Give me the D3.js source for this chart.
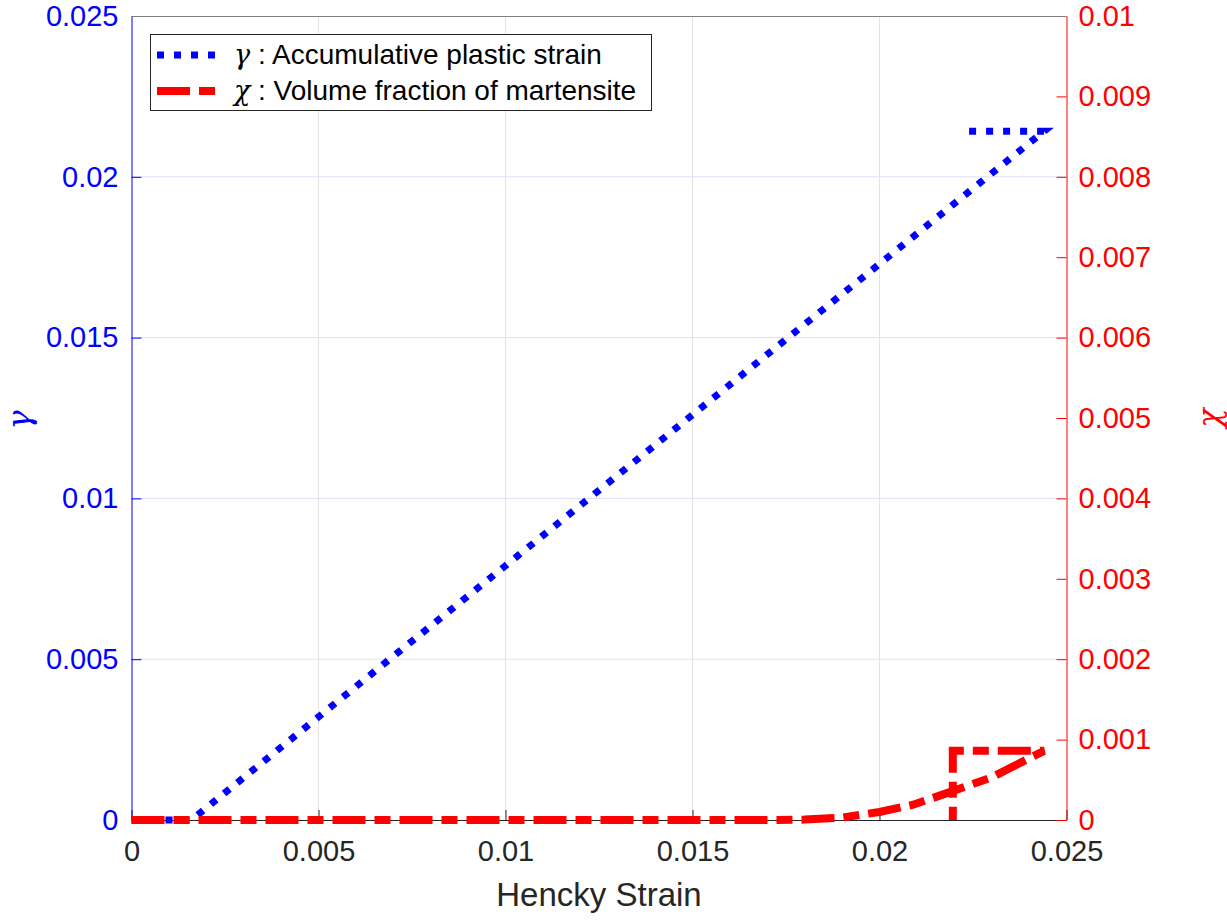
<!DOCTYPE html>
<html><head><meta charset="utf-8">
<script src="https://cdn.jsdelivr.net/npm/d3@7"></script>
<style>body{margin:0;background:#fff}svg{display:block}text{font-family:"Liberation Sans",Arial,sans-serif}</style>
</head><body><svg id="c" width="1227" height="921"></svg>
<script>
// Data
const xTicks = [0, 0.005, 0.01, 0.015, 0.02, 0.025];
const xTickLabels = ["0", "0.005", "0.01", "0.015", "0.02", "0.025"];
const yLeftTicks = [0, 0.005, 0.01, 0.015, 0.02, 0.025];
const yLeftTickLabels = ["0", "0.005", "0.01", "0.015", "0.02", "0.025"];
const yRightTicks = [0, 0.001, 0.002, 0.003, 0.004, 0.005, 0.006, 0.007, 0.008, 0.009, 0.01];
const yRightTickLabels = ["0", "0.001", "0.002", "0.003", "0.004", "0.005", "0.006", "0.007", "0.008", "0.009", "0.01"];
const gammaStrain = [0, 0.0016, 0.0072, 0.0244, 0.02223];
const gammaValues = [0, 0, 0.00528, 0.02142, 0.02142];
const chiStrain = [0, 0.017, 0.018, 0.019, 0.020, 0.0209, 0.0219, 0.023, 0.0238, 0.0244, 0.02196, 0.02196];
const chiValues = [0, 0, 0.000005, 0.00003, 0.0001, 0.00019, 0.00035, 0.00053, 0.00072, 0.00086, 0.00086, 0];
const seriesNames = [": Accumulative plastic strain", ": Volume fraction of martensite"];
const seriesSymbols = ["γ", "χ"];

const svg = d3.select("#c");
const L = 131.5, R = 1066.5, T = 16, B = 820;
const x = d3.scaleLinear().domain([0, 0.025]).range([L, R]);
const yL = d3.scaleLinear().domain([0, 0.025]).range([B, T]);
const yR = d3.scaleLinear().domain([0, 0.01]).range([B, T]);
const blue = "#0000ff", red = "#ff0000", dark = "#262626";
const sans = "Liberation Sans, Arial, sans-serif";
const serif = "DejaVu Serif, Liberation Serif, serif";

// grid
const g = svg.append("g");
g.selectAll(".vg").data(xTicks.slice(1, -1)).enter().append("line")
  .attr("x1", d => x(d)).attr("x2", d => x(d)).attr("y1", T).attr("y2", B)
  .attr("stroke", "#e3e3e3").attr("stroke-width", 1);
g.selectAll(".hg").data(yLeftTicks.slice(1, -1)).enter().append("line")
  .attr("x1", L).attr("x2", R).attr("y1", d => yL(d)).attr("y2", d => yL(d))
  .attr("stroke", "#e0e0fa").attr("stroke-width", 1);

// axes
const fs = 29;
const xAxis = d3.axisBottom(x).tickValues(xTicks).tickFormat((d, i) => xTickLabels[i]).tickSizeInner(-10).tickSizeOuter(0).tickPadding(20);
const gx = svg.append("g").attr("transform", `translate(0,${B})`).call(xAxis);
gx.select(".domain").attr("stroke", dark);
gx.selectAll(".tick line").attr("stroke", dark);
gx.selectAll("text").attr("fill", dark).attr("font-size", fs).attr("font-family", sans);

const yAxisL = d3.axisLeft(yL).tickValues(yLeftTicks).tickFormat((d, i) => yLeftTickLabels[i]).tickSizeInner(-10).tickSizeOuter(0).tickPadding(13);
const gyl = svg.append("g").attr("transform", `translate(${L},0)`).call(yAxisL);
gyl.select(".domain").attr("stroke", blue);
gyl.selectAll(".tick line").attr("stroke", blue);
gyl.selectAll("text").attr("fill", blue).attr("font-size", fs).attr("font-family", sans);

const yAxisR = d3.axisRight(yR).tickValues(yRightTicks).tickFormat((d, i) => yRightTickLabels[i]).tickSizeInner(-10).tickSizeOuter(0).tickPadding(12);
const gyr = svg.append("g").attr("transform", `translate(${R},0)`).call(yAxisR);
gyr.select(".domain").attr("stroke", red);
gyr.selectAll(".tick line").attr("stroke", red);
gyr.selectAll("text").attr("fill", red).attr("font-size", fs).attr("font-family", sans);

// top border
svg.append("line").attr("x1", L).attr("x2", R).attr("y1", T + 0.5).attr("y2", T + 0.5).attr("stroke", "#808080");

// axis labels
svg.append("text").attr("x", (L + R) / 2).attr("y", 906).attr("text-anchor", "middle")
  .attr("fill", dark).attr("font-size", 33).attr("font-family", sans).text("Hencky Strain");
svg.append("text").attr("transform", "translate(30,420) rotate(-90)").attr("text-anchor", "middle")
  .attr("fill", blue).attr("font-size", 32).attr("font-style", "italic")
  .style("font-family", serif).text(seriesSymbols[0]);
svg.append("text").attr("transform", "translate(1220,418) rotate(-90)").attr("text-anchor", "middle")
  .attr("fill", red).attr("font-size", 32).attr("font-style", "italic")
  .style("font-family", serif).text(seriesSymbols[1]);

// lines
const lineG = d3.line().x(d => x(d[0])).y(d => yL(d[1]));
const lineC = d3.line().x(d => x(d[0])).y(d => yR(d[1]));
const gData = gammaStrain.map((s, i) => [s, gammaValues[i]]);
const cData = chiStrain.map((s, i) => [s, chiValues[i]]);
svg.append("path").attr("d", lineG(gData)).attr("fill", "none").attr("stroke", blue)
  .attr("stroke-width", 7).attr("stroke-dasharray", "7,10").attr("stroke-linejoin", "miter");
svg.append("path").attr("d", lineC(cData)).attr("fill", "none").attr("stroke", red)
  .attr("stroke-width", 8).attr("stroke-dasharray", "33,9,16,9").attr("stroke-linejoin", "miter");

// legend
const lg = svg.append("g");
lg.append("rect").attr("x", 150.5).attr("y", 34.5).attr("width", 501).attr("height", 76)
  .attr("fill", "#fff").attr("stroke", dark).attr("stroke-width", 1);
const rows = [55, 91];
lg.append("line").attr("x1", 157).attr("x2", 215).attr("y1", rows[0]).attr("y2", rows[0])
  .attr("stroke", blue).attr("stroke-width", 7).attr("stroke-dasharray", "7,10");
lg.append("line").attr("x1", 157).attr("x2", 215).attr("y1", rows[1]).attr("y2", rows[1])
  .attr("stroke", red).attr("stroke-width", 8).attr("stroke-dasharray", "33,9,16,9");
[0, 1].forEach(i => {
  lg.append("text").attr("x", 234).attr("y", rows[i] + 9).attr("font-size", 27).attr("font-style", "italic")
    .style("font-family", serif).attr("fill", "#000").text(seriesSymbols[i]);
  lg.append("text").attr("x", 258).attr("y", rows[i] + 9).attr("font-size", 28).attr("font-family", sans).attr("fill", "#000").text(seriesNames[i]);
});
</script></body></html>
